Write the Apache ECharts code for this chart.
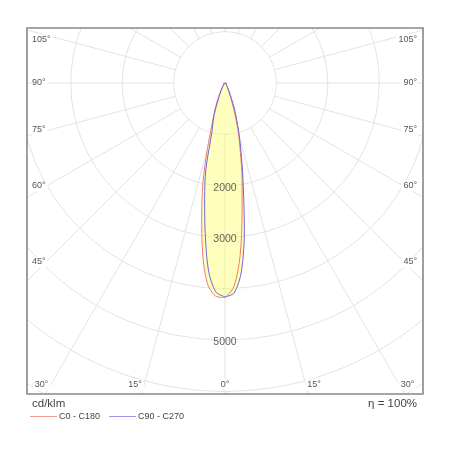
<!DOCTYPE html>
<html>
<head>
<meta charset="utf-8">
<script src="https://cdn.jsdelivr.net/npm/echarts@6/dist/echarts.min.js"></script>
<style>
  html, body { margin: 0; padding: 0; background: #fff; }
  #main { width: 450px; height: 450px; }
</style>
</head>
<body>
<div id="main"></div>
<script>
// gamma angles (deg from nadir) and intensities in cd/klm
const gammas = [0, 2.5, 5, 7.5, 10, 12.5, 15, 17.5, 20, 22.5, 25, 27.5, 30, 32.5, 35, 37.5, 40, 45, 50, 55, 60, 65, 70, 75, 80, 85, 90];
const c0   = [4175, 3967, 3370, 2550, 1920, 1380, 1010, 660, 390, 230, 150, 100, 70, 50, 40, 35, 32, 30, 28, 27, 26, 25, 25, 25, 25, 25, 25];
const c180 = [4175, 4150, 3920, 3340, 2610, 1980, 1320, 840, 610, 430, 290, 200, 140, 100, 75, 55, 45, 35, 30, 30, 28, 26, 25, 25, 25, 25, 25];
const c90  = [4160, 4090, 3675, 2890, 2050, 1485, 1080, 770, 540, 320, 220, 150, 105, 80, 60, 45, 38, 30, 28, 27, 26, 25, 25, 25, 25, 25, 25];
const c270 = [4160, 4070, 3670, 2950, 2280, 1720, 980, 760, 540, 330, 230, 160, 110, 80, 60, 45, 38, 30, 28, 27, 26, 25, 25, 25, 25, 25, 25];

const seriesNames = ['C0 - C180', 'C90 - C270'];
const seriesColors = ['#f27a72', '#6f66e0'];
const legendColors = ['#f29a94', '#9a94ec'];
const ringLabels = [2000, 3000, 5000];
const sideAngles = [105, 90, 75, 60, 45];
const bottomAngles = [30, 15, 0, 15, 30];
const unitText = 'cd/klm';
const etaText = 'η = 100%';

// layout
const CX = 225, CY = 83, PX_PER_CD = 0.0514, RMAX = 8000;
const BOX = { x: 27, y: 28, w: 396, h: 366 };
const sideLabelY = [40, 83, 130, 186, 262];
const bottomLabelX = [41.5, 135, 225, 314, 407.5];
const legendX = [30, 109];
const LEGEND_Y = 416.5;
const FONT = '"Liberation Sans", Arial, sans-serif';

// left half uses angle value = gamma, right half uses 360 - gamma
function lobe(left, right) {
  const pts = [];
  gammas.forEach((g, i) => pts.push([left[i], g]));
  for (let i = gammas.length - 1; i >= 0; i--) pts.push([right[i], 360 - gammas[i]]);
  return pts;
}
const fillLeft = c180.map((v, i) => Math.max(v, c270[i]));
const fillRight = c0.map((v, i) => Math.max(v, c90[i]));

const graphics = [
  // white inner disc hides the radial lines near the centre
  { type: 'circle', shape: { cx: CX, cy: CY, r: 1000 * PX_PER_CD - 0.8 }, style: { fill: '#fff' }, z: 1, silent: true },
  // masks outside the frame
  { type: 'rect', shape: { x: 0, y: 0, width: 450, height: BOX.y }, style: { fill: '#fff' }, z: 10, silent: true },
  { type: 'rect', shape: { x: 0, y: BOX.y + BOX.h, width: 450, height: 450 }, style: { fill: '#fff' }, z: 10, silent: true },
  { type: 'rect', shape: { x: 0, y: 0, width: BOX.x, height: 450 }, style: { fill: '#fff' }, z: 10, silent: true },
  { type: 'rect', shape: { x: BOX.x + BOX.w, y: 0, width: 450, height: 450 }, style: { fill: '#fff' }, z: 10, silent: true },
  { type: 'rect', shape: { x: BOX.x, y: BOX.y, width: BOX.w, height: BOX.h }, style: { fill: null, stroke: '#888', lineWidth: 1.6 }, z: 11, silent: true },
  { type: 'text', left: 32, top: 398, style: { text: unitText, fontSize: 11.5, fontFamily: FONT, fill: '#444' }, z: 11 },
  { type: 'text', right: 33, top: 398, style: { text: etaText, fontSize: 11.5, fontFamily: FONT, fill: '#444' }, z: 11 }
];

sideAngles.forEach((a, i) => {
  graphics.push({ type: 'text', x: 32, y: sideLabelY[i], style: { text: a + '°', fontSize: 9, fontFamily: FONT, fill: '#555', align: 'left', verticalAlign: 'middle', backgroundColor: '#fff', padding: [1, 2, 1, 0] }, z: 11 });
  graphics.push({ type: 'text', x: 417, y: sideLabelY[i], style: { text: a + '°', fontSize: 9, fontFamily: FONT, fill: '#555', align: 'right', verticalAlign: 'middle', backgroundColor: '#fff', padding: [1, 0, 1, 2] }, z: 11 });
});
bottomAngles.forEach((a, i) => {
  graphics.push({ type: 'text', x: bottomLabelX[i], y: 385, style: { text: a + '°', fontSize: 9, fontFamily: FONT, fill: '#555', align: 'center', verticalAlign: 'middle', backgroundColor: '#fff', padding: [1, 2] }, z: 11 });
});
// legend: short line + name
seriesNames.forEach((n, i) => {
  graphics.push({ type: 'line', shape: { x1: legendX[i], y1: LEGEND_Y, x2: legendX[i] + 27, y2: LEGEND_Y }, style: { stroke: legendColors[i], lineWidth: 1 }, z: 11, silent: true });
  graphics.push({ type: 'text', x: legendX[i] + 29, y: LEGEND_Y, style: { text: n, fontSize: 9, fontFamily: FONT, fill: '#444', align: 'left', verticalAlign: 'middle' }, z: 11 });
});

const chart = echarts.init(document.getElementById('main'));
chart.setOption({
  animation: false,
  polar: { center: [CX, CY], radius: RMAX * PX_PER_CD },
  angleAxis: {
    type: 'value', min: 0, max: 360, interval: 15, startAngle: -90, clockwise: true,
    axisLine: { show: false }, axisTick: { show: false }, axisLabel: { show: false },
    splitLine: { show: true, lineStyle: { color: '#e3e3e3', width: 1 } }
  },
  radiusAxis: {
    type: 'value', min: 0, max: RMAX, interval: 1000,
    axisLine: { show: false }, axisTick: { show: false }, axisLabel: { show: false },
    splitLine: { show: true, lineStyle: { color: '#e3e3e3', width: 1 } }
  },
  graphic: graphics,
  series: [
    {
      name: 'fill', type: 'line', coordinateSystem: 'polar', z: 2,
      data: lobe(fillLeft, fillRight), symbol: 'none', smooth: 0.3,
      lineStyle: { width: 0 }, areaStyle: { color: 'rgba(255,255,90,0.4)', opacity: 1 }
    },
    {
      name: seriesNames[0], type: 'line', coordinateSystem: 'polar', z: 4,
      data: lobe(c180, c0), symbol: 'none', smooth: 0.3,
      itemStyle: { color: seriesColors[0] }, lineStyle: { color: seriesColors[0], width: 1 }
    },
    {
      name: seriesNames[1], type: 'line', coordinateSystem: 'polar', z: 5,
      data: lobe(c270, c90), symbol: 'none', smooth: 0.3,
      itemStyle: { color: seriesColors[1] }, lineStyle: { color: seriesColors[1], width: 1 }
    },
    {
      name: 'rings', type: 'scatter', coordinateSystem: 'polar', z: 6,
      data: ringLabels.map(v => [v, 0]), symbolSize: 1,
      itemStyle: { color: 'rgba(0,0,0,0)' },
      label: {
        show: true, position: 'inside', offset: [0, 2],
        formatter: p => String(p.value[0]),
        fontSize: 10.5, fontFamily: FONT, color: '#3a3a3a'
      }
    }
  ]
});
</script>
</body>
</html>
